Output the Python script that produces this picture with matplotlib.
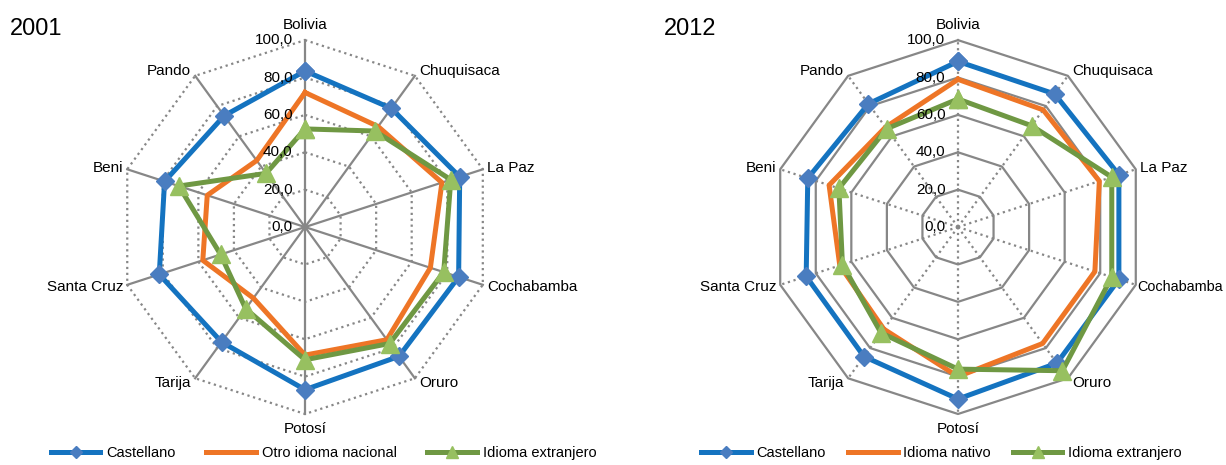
import numpy as np
import matplotlib
matplotlib.use("Agg")
import matplotlib.pyplot as plt
from matplotlib import font_manager
from matplotlib.lines import Line2D

# ---------------- datos ----------------
categorias = ["Bolivia", "Chuquisaca", "La Paz", "Cochabamba", "Oruro",
              "Potosí", "Tarija", "Santa Cruz", "Beni", "Pando"]
niveles = [0, 20, 40, 60, 80, 100]
etiquetas_niveles = ["0,0", "20,0", "40,0", "60,0", "80,0", "100,0"]

castellano_2001 = [83.5, 78.5, 87.0, 86.4, 85.5, 87.0, 76.0, 82.0, 79.0, 73.6]
otro_idioma_2001 = [72.0, 66.5, 77.0, 70.5, 74.5, 68.5, 47.0, 57.5, 55.0, 44.0]
extranjero_2001 = [52.5, 63.5, 82.0, 78.0, 77.0, 71.0, 54.0, 47.5, 71.0, 35.5]

castellano_2012 = [88.6, 88.0, 90.5, 90.5, 90.0, 92.0, 85.6, 85.4, 84.5, 81.5]
nativo_2012 = [79.0, 77.5, 79.5, 77.0, 77.0, 80.0, 67.5, 66.5, 72.5, 66.0]
extranjero_2012 = [68.5, 67.0, 86.5, 86.5, 95.0, 76.0, 70.0, 65.0, 67.0, 65.0]

# ---------------- fuente ----------------
nombres = {f.name for f in font_manager.fontManager.ttflist}
if "Liberation Sans Narrow" in nombres:
    fuente = "Liberation Sans Narrow"
    fs_cat, fs_tick, fs_leg, fs_tit = 13, 13, 12.5, 21
else:
    fuente = "Liberation Sans"
    fs_cat, fs_tick, fs_leg, fs_tit = 11, 11, 10.5, 17
plt.rcParams['font.family'] = [fuente, 'DejaVu Sans']

azul, azul_m = "#1473C0", "#4A7DC0"
naranja = "#EE7526"
verde, verde_m = "#6F9843", "#97C060"
gris = "#878787"

fig = plt.figure(figsize=(12.26, 4.65), dpi=100)

n = len(categorias)
ang = 2 * np.pi * np.arange(n) / n
ang_c = np.append(ang, ang[0])


def cerrar(v):
    return np.append(v, v[0])


def radar(pos, titulo, tit_x, series, nombres_series, anillo_ls, radio_ls, leg_x,
          col_esp, borde_derecho=False):
    ax = fig.add_axes(pos, projection="polar")
    ax.set_theta_zero_location("N")
    ax.set_theta_direction(-1)
    ax.set_ylim(0, 100)
    ax.set_axis_off()

    # rejilla poligonal
    for nv in niveles[1:]:
        ax.plot(ang_c, [nv] * (n + 1), color=gris, lw=1.6, ls=anillo_ls,
                clip_on=False, zorder=1)
    for a in ang:
        ax.plot([a, a], [0, 100], color=gris, lw=1.6, ls=radio_ls,
                clip_on=False, zorder=1)

    # etiquetas de niveles
    for nv, et in zip(niveles, etiquetas_niveles):
        ax.annotate(et, (0, nv), xytext=(-9, 0), textcoords="offset points",
                    ha="right", va="center", fontsize=fs_tick, zorder=6)

    # etiquetas de categorias
    for a, c in zip(ang, categorias):
        s, co = np.sin(a), np.cos(a)
        if abs(s) < 0.1:
            if co > 0:
                ax.annotate(c, (a, 100), xytext=(0, 6), textcoords="offset points",
                            ha="center", va="bottom", fontsize=fs_cat)
            else:
                ax.annotate(c, (a, 100), xytext=(0, -6), textcoords="offset points",
                            ha="center", va="top", fontsize=fs_cat)
        else:
            tam = fs_cat
            dx = 3 * np.sign(s)
            if borde_derecho and c == "Cochabamba":
                tam = fs_cat - 0.6
                dx = 1
            ax.annotate(c, (a, 100), xytext=(dx, 4 * co),
                        textcoords="offset points",
                        ha="left" if s > 0 else "right", va="center",
                        fontsize=tam)

    c1, c2, c3 = series
    ax.plot(ang_c, cerrar(c1), color=azul, lw=3.6, marker="D", ms=9,
            mfc=azul_m, mec=azul_m, clip_on=False, zorder=3)
    ax.plot(ang_c, cerrar(c2), color=naranja, lw=3.6, clip_on=False, zorder=4)
    ax.plot(ang_c, cerrar(c3), color=verde, lw=3.6, marker="^", ms=13,
            mfc=verde_m, mec=verde_m, clip_on=False, zorder=5)

    fig.text(tit_x, 0.938, titulo, fontsize=fs_tit, ha="left", va="center")

    manejadores = [
        Line2D([], [], color=azul, lw=3.6, marker="D", ms=6, mfc=azul_m, mec=azul_m),
        Line2D([], [], color=naranja, lw=3.6),
        Line2D([], [], color=verde, lw=3.6, marker="^", ms=9, mfc=verde_m, mec=verde_m),
    ]
    fig.legend(manejadores, nombres_series, loc="center",
               bbox_to_anchor=(leg_x, 0.026), ncol=3, frameon=False,
               fontsize=fs_leg, handlelength=3.4, handletextpad=0.4,
               columnspacing=col_esp, numpoints=1)
    return ax


radar([0.0963, 0.1097, 0.305, 0.804], "2001", 0.008,
      (castellano_2001, otro_idioma_2001, extranjero_2001),
      ["Castellano", "Otro idioma nacional", "Idioma extranjero"],
      ":", "-", 0.264, 2.1)
radar([0.6289, 0.1097, 0.305, 0.804], "2012", 0.5415,
      (castellano_2012, nativo_2012, extranjero_2012),
      ["Castellano", "Idioma nativo", "Idioma extranjero"],
      "-", ":", 0.768, 1.5, borde_derecho=True)

fig.savefig("out.png", dpi=100)
